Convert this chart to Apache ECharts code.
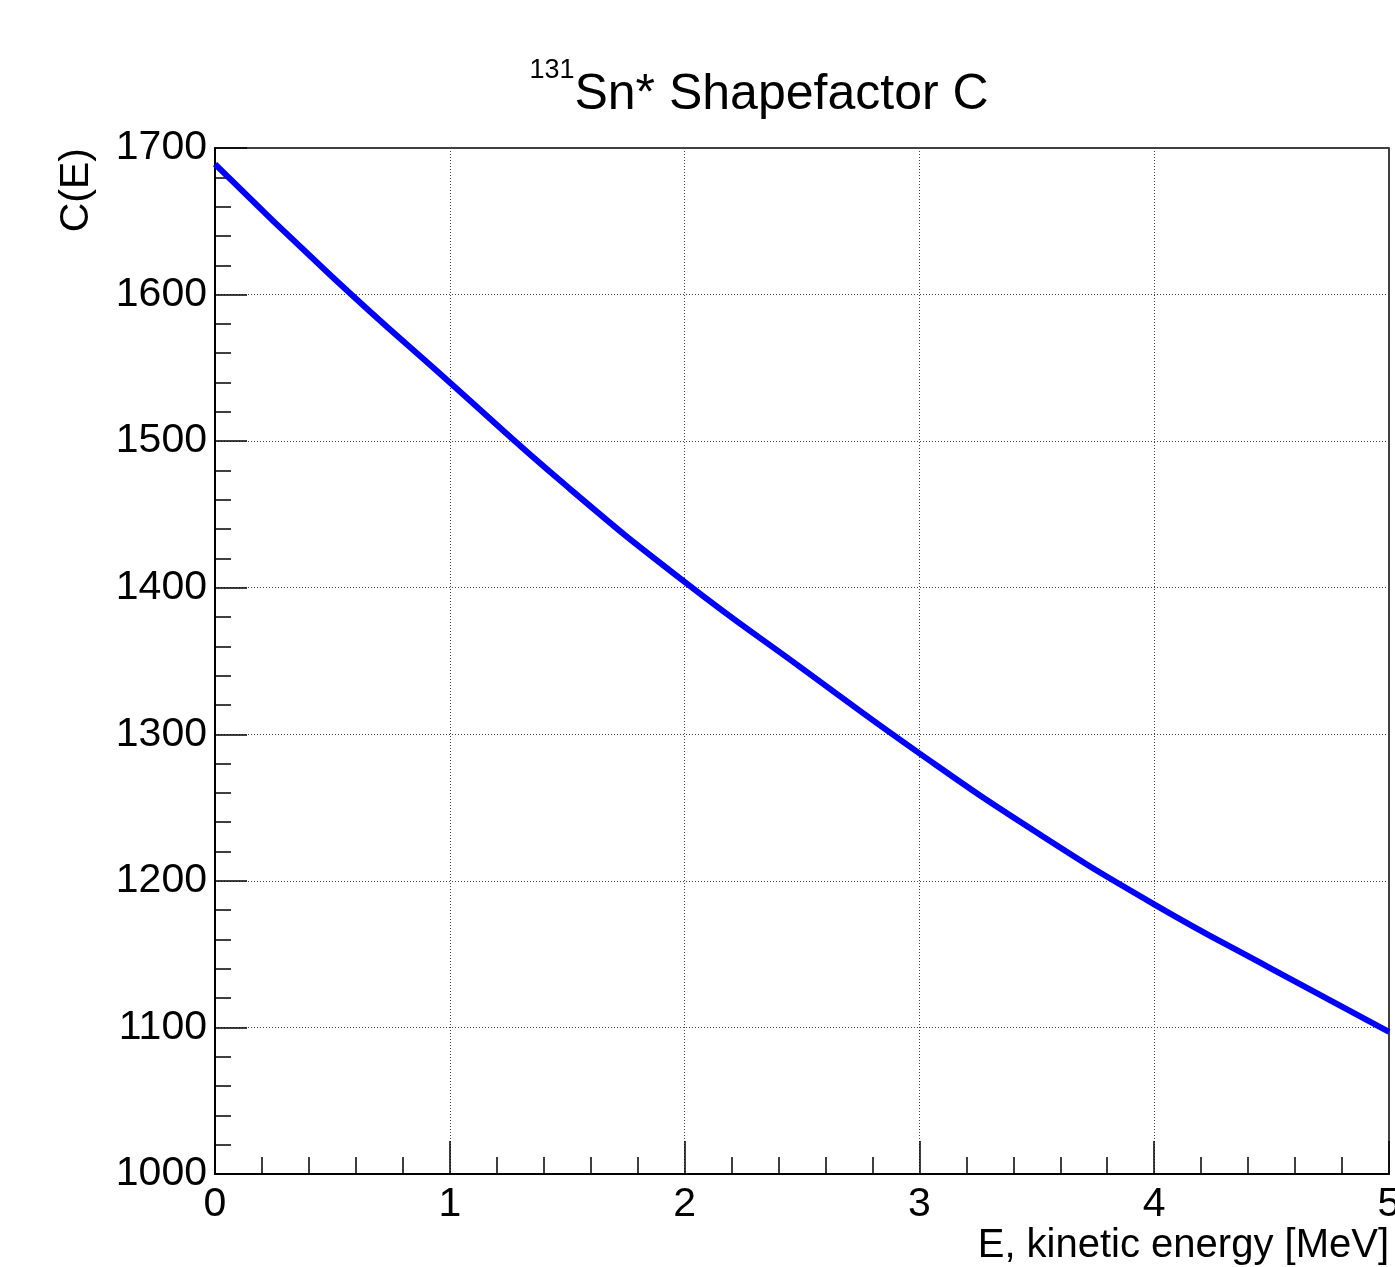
<!DOCTYPE html>
<html>
<head>
<meta charset="utf-8">
<script src="https://cdn.jsdelivr.net/npm/echarts@6/dist/echarts.min.js"></script>
<style>
    html, body { margin: 0; padding: 0; background: #fff; overflow: hidden; }
    #chart { width: 1395px; height: 1267px; }
</style>
</head>
<body>
<div id="chart"></div>
<script>
// kinetic energy [MeV] and shape factor C(E)
const energy = [0, 0.5, 1, 1.5, 2, 2.5, 3, 3.5, 4, 4.5, 5];
const shapeC = [1689, 1612, 1540, 1469, 1404, 1345, 1287, 1233, 1184, 1140, 1097];

const xTicks = { min: 0, max: 5, interval: 1 };
const yTicks = { min: 1000, max: 1700, interval: 100 };

document.addEventListener('DOMContentLoaded', function () {
    const chart = echarts.init(document.getElementById('chart'));
    const font = '"Liberation Sans", Arial, sans-serif';

    const points = energy.map((e, i) => [e, shapeC[i]]);

    chart.setOption({
        animation: false,
        backgroundColor: '#fff',
        title: {
            text: '{sup|131}{main|Sn* Shapefactor C}',
            left: 754,
            top: 52,
            textAlign: 'center',
            textStyle: {
                rich: {
                    sup: { fontFamily: font, fontSize: 27, fontWeight: 'normal', color: '#000', verticalAlign: 'top', lineHeight: 76 },
                    main: { fontFamily: font, fontSize: 50, fontWeight: 'normal', color: '#000', lineHeight: 76 }
                }
            }
        },
        grid: {
            left: 215,
            right: 6,
            top: 148,
            bottom: 93,
            outerBoundsMode: 'none',
            show: true,
            borderColor: '#000',
            borderWidth: 1.5
        },
        xAxis: {
            type: 'value',
            min: xTicks.min,
            max: xTicks.max,
            interval: xTicks.interval,
            name: 'E, kinetic energy [MeV]',
            nameLocation: 'end',
            nameGap: 0,
            nameTextStyle: {
                fontFamily: font, fontSize: 40, color: '#000',
                align: 'right', verticalAlign: 'top', padding: [52, 0, 0, 0]
            },
            axisLine: { show: true, lineStyle: { color: '#000', width: 2 } },
            axisTick: { show: true, inside: true, length: 33, lineStyle: { color: '#000', width: 1.5 } },
            minorTick: { show: true, splitNumber: 5, length: 17, lineStyle: { color: '#000', width: 1.5 } },
            axisLabel: { fontFamily: font, fontSize: 41, color: '#000', margin: 10, formatter: v => String(v) },
            splitLine: { show: true, lineStyle: { color: '#444', width: 1, type: [1, 2] } }
        },
        yAxis: {
            type: 'value',
            min: yTicks.min,
            max: yTicks.max,
            interval: yTicks.interval,
            name: 'C(E)',
            nameLocation: 'end',
            nameGap: 0,
            nameRotate: 90,
            nameTextStyle: {
                fontFamily: font, fontSize: 41, color: '#000',
                align: 'right', verticalAlign: 'bottom', padding: [0, 0, 118, 0]
            },
            axisLine: { show: true, lineStyle: { color: '#000', width: 2 } },
            axisTick: { show: true, inside: true, length: 32, lineStyle: { color: '#000', width: 1.5 } },
            minorTick: { show: true, splitNumber: 5, length: 16, lineStyle: { color: '#000', width: 1.5 } },
            axisLabel: { fontFamily: font, fontSize: 41, color: '#000', margin: 8, formatter: v => String(v) },
            splitLine: { show: true, lineStyle: { color: '#444', width: 1, type: [1, 2] } }
        },
        series: [
            {
                name: 'C(E)',
                type: 'line',
                data: points,
                smooth: true,
                symbol: 'none',
                lineStyle: { color: '#0000ff', width: 6 },
                z: 5
            }
        ]
    });
});
</script>
</body>
</html>
